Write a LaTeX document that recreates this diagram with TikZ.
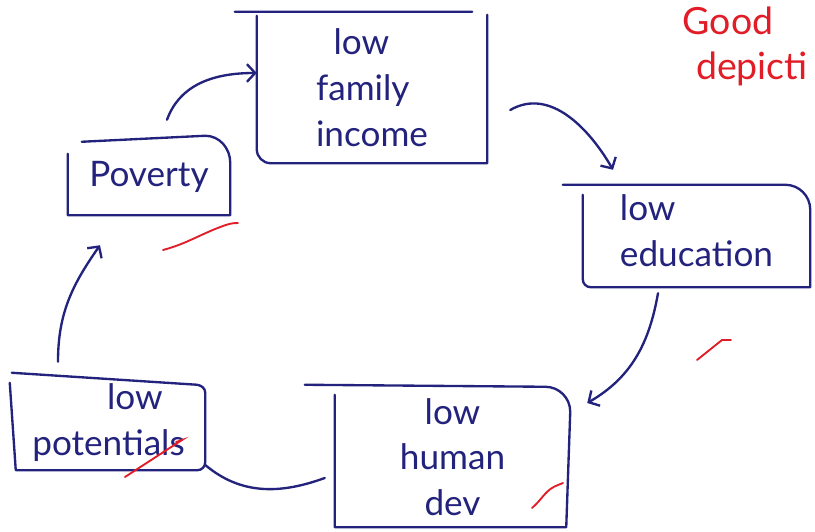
\documentclass[tikz,border=0pt]{standalone}
\usepackage{fontspec}
\setmainfont{Lato}
\usetikzlibrary{arrows.meta}
\definecolor{ink}{RGB}{35,35,125}
\definecolor{marker}{RGB}{225,30,40}
\begin{document}
\begin{tikzpicture}[x=0.03cm,y=0.03cm]
	\tikzstyle{stage} = [inner sep=0pt, text=ink, font=\fontsize{30}{39}\selectfont]
	\tikzstyle{outline} = [draw=ink, line width=2pt, line cap=round, line join=round]
	\tikzstyle{cycle arrow} = [draw=ink, line width=2pt, line cap=round, -{Straight Barb[length=7pt,width=15pt]}]
	\tikzstyle{tick} = [draw=marker, line width=1.6pt, line cap=round]
	\tikzstyle{remark} = [text=marker, font=\fontsize{32}{36}\selectfont, inner sep=0pt]
	\useasboundingbox (0,0) rectangle (815,531);
	\fill[white] (0,0) rectangle (815,531);
	\node[stage, minimum width=4.86cm, minimum height=2.31cm] (pov) at (149,354.5) {Poverty};
	\node[stage, minimum width=6.9cm, minimum height=4.53cm, align=left] (inc) at (372,443.5) {\hspace{0.5em}low\\family\\income};
	\node[stage, minimum width=6.81cm, minimum height=3.06cm, align=left] (edu) at (696.5,300) {low\\education};
	\node[stage, minimum width=7.05cm, minimum height=4.2cm, align=center] (hum) at (452.5,74) {low\\human\\dev};
	\node[stage, minimum width=5.79cm, minimum height=2.85cm, align=center] (pot) at (108.5,108.5) {\hspace{1.5em}low\\potentials};
	\draw[outline] ([shift={(14,-4)}]pov.north west) -- ([shift={(-25,2)}]pov.north east)
		to[out=0,in=90] ([shift={(0,-25)}]pov.north east) -- (pov.south east) -- (pov.south west)
		-- ([shift={(0,-16)}]pov.north west);
	\draw[outline] ([shift={(-22,0)}]inc.north west) -- ([shift={(-15,0)}]inc.north east)
		([shift={(0,-3)}]inc.north east) -- (inc.south east) -- ([shift={(14,0)}]inc.south west)
		to[out=180,in=-90] ([shift={(0,14)}]inc.south west) -- ([shift={(0,-4)}]inc.north west);
	\draw[outline] ([shift={(-20,-5)}]edu.north west) -- ([shift={(-25,-5)}]edu.north east)
		to[out=0,in=90] ([shift={(0,-30)}]edu.north east) -- ([shift={(0,-5)}]edu.south east) -- ([shift={(8,-5)}]edu.south west)
		to[out=180,in=-90] ([shift={(0,3)}]edu.south west) -- ([shift={(0,-15)}]edu.north west);
	\draw[outline] ([shift={(-30,2)}]hum.north west) -- ([shift={(-25,0)}]hum.north east)
		to[out=0,in=90] ([shift={(0,-25)}]hum.north east) -- ([shift={(-4,0)}]hum.south east) -- (hum.south west)
		-- ([shift={(0,-8)}]hum.north west);
	\draw[outline] ([shift={(0,2)}]pot.north west) -- ([shift={(-8,-10)}]pot.north east)
		to[out=-10,in=90] ([shift={(0,-18)}]pot.north east) -- ([shift={(0,8)}]pot.south east)
		to[out=-90,in=0] ([shift={(-8,0)}]pot.south east) -- ([shift={(4,0)}]pot.south west)
		-- ([shift={(-2,-8)}]pot.north west);
	\draw[cycle arrow] ([shift={(18,18)}]pov.north) to[out=70,in=180] ([shift={(0,14.5)}]inc.west);
	\draw[cycle arrow] ([shift={(23,-22.5)}]inc.east) to[out=30,in=120] ([shift={(-83.5,10)}]edu.north);
	\draw[cycle arrow] ([shift={(-38.5,-11)}]edu.south) to[out=-100,in=30] ([shift={(17,54)}]hum.east);
	\draw[outline] ([shift={(-10,-21)}]hum.west) to[out=200,in=-40] ([shift={(0,-42.5)}]pot.east);
	\draw[cycle arrow] ([shift={(-50.5,13)}]pot.north) to[out=90,in=-125] ([shift={(-49,-30)}]pov.south);
	\node[remark] (good) at (728,510) {Good};
	\node[remark] (depict) at (752,462) {depicti};
	\draw[tick] (163,281) to[out=15,in=200] (223,305) to[out=20,in=180] (238,308);
	\draw[tick] (697,171) -- (722,191) -- (731,191);
	\draw[tick] (532,23) to[out=40,in=200] (558,46) -- (563,48);
	\draw[tick] (125,54) -- (182,91) -- (176,89);
\end{tikzpicture}
\end{document}
